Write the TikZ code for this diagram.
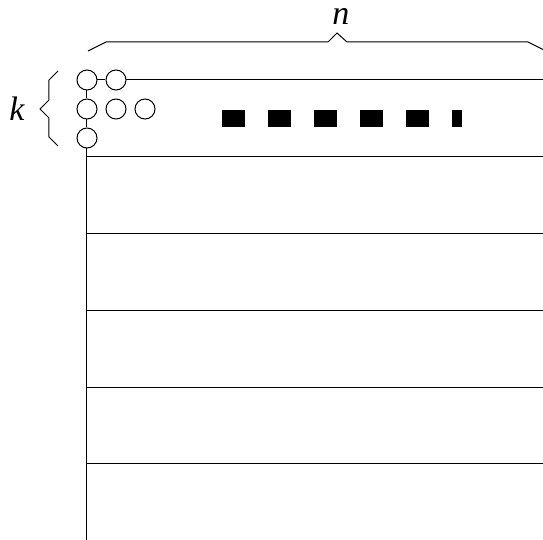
\documentclass[tikz,border=0pt]{standalone}
\usepackage{fontspec}
\setmainfont{Liberation Serif}
\begin{document}
\begin{tikzpicture}[x=0.5pt,y=-0.5pt,line width=0.5pt,
  cell/.style={circle,draw,inner sep=0pt,minimum size=10pt},
  lbl/.style={font=\fontsize{17}{20}\selectfont\itshape}]
  \useasboundingbox (0,0) rectangle (543,540);
  \node[cell] (c11) at (87,80) {};
  \node[cell] (c12) at (116,80) {};
  \node[cell] (c21) at (87,109) {};
  \node[cell] (c22) at (116,109) {};
  \node[cell] (c23) at (145,109) {};
  \node[cell] (c31) at (87,138) {};
  \coordinate (top) at (543,80);
  \coordinate (bot) at (87,540);
  \draw (c11) -- (c12);
  \draw (c11) -- (c21);
  \draw (c21) -- (c31);
  \draw (c12) -- (top);
  \draw (c31) -- (bot);
  \foreach \y in {157,234,311,388,464} \draw (87,\y) -- (543,\y);
  \foreach \x in {222,268,...,406} \fill (\x,110) rectangle +(23,17);
  \fill (452,110) rectangle (462,127);
  \draw (88,51) -- (106,42) -- (328,42) -- (337,33) -- (347,42) -- (528,42) -- (546,51);
  \draw (58,71) -- (49,80) -- (49,100) -- (40,109) -- (49,118) -- (49,137) -- (58,146);
  \node[lbl] (n) at (341,16) {n};
  \node[lbl] (k) at (17,109) {k};
\end{tikzpicture}
\end{document}
